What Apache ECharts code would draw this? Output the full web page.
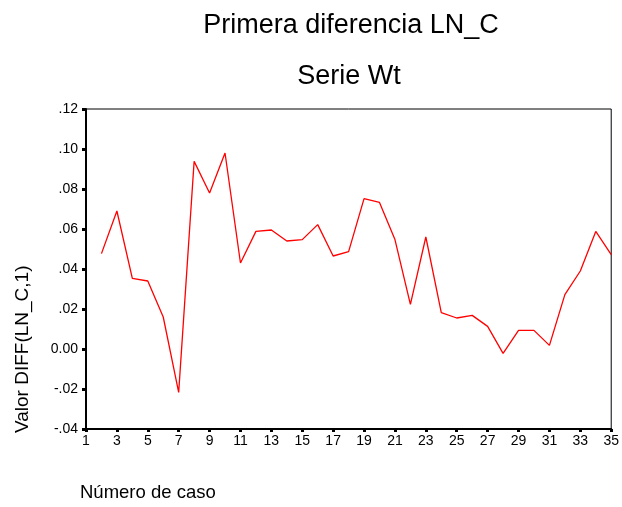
<!DOCTYPE html>
<html>
<head>
<meta charset="utf-8">
<script src="https://cdn.jsdelivr.net/npm/echarts@6/dist/echarts.min.js"></script>
<style>
  html, body { margin: 0; padding: 0; background: #fff; }
  #chart { width: 622px; height: 507px; }
</style>
</head>
<body>
<div id="chart"></div>
<script>
  // case numbers 1..35 (first difference has no value at case 1)
  var cases = []
  for (var i = 1; i <= 35; i++) cases.push(String(i))

  var diffLnC = [null,
    0.0477, 0.0690, 0.0353, 0.0340, 0.0160, -0.0217, 0.0938, 0.0780, 0.0980, 0.0430,
    0.0588, 0.0595, 0.0540, 0.0547, 0.0622, 0.0465, 0.0487, 0.0752, 0.0733, 0.0547,
    0.0223, 0.0560, 0.0182, 0.0155, 0.0168, 0.0113, -0.0022, 0.0093, 0.0093, 0.0018,
    0.0272, 0.0390, 0.0588, 0.0472]

  var yTicks = { '0.12': '.12', '0.1': '.10', '0.08': '.08', '0.06': '.06', '0.04': '.04',
    '0.02': '.02', '0': '0.00', '-0.02': '-.02', '-0.04': '-.04' }

  var font = 'Liberation Sans, Arial, sans-serif'
  var chart = echarts.init(document.getElementById('chart'))

  chart.setOption({
    animation: false,
    title: [
      { text: 'Primera diferencia LN_C', left: 346, top: 7, textAlign: 'center',
        textStyle: { fontFamily: font, fontSize: 27, fontWeight: 'normal', color: '#000' } },
      { text: 'Serie Wt', left: 344, top: 58, textAlign: 'center',
        textStyle: { fontFamily: font, fontSize: 27, fontWeight: 'normal', color: '#000' } }
    ],
    grid: { left: 86, right: 10, top: 109, bottom: 78, show: true, borderColor: '#000', borderWidth: 1 },
    graphic: [
      { type: 'text', x: 13, y: 433, rotation: Math.PI / 2,
        style: { text: 'Valor DIFF(LN_C,1)', font: '19px ' + font, fill: '#000' } },
      { type: 'text', x: 80, y: 483,
        style: { text: 'Número de caso', font: '18.5px ' + font, fill: '#000' } }
    ],
    xAxis: {
      type: 'category',
      data: cases,
      boundaryGap: false,
      axisLine: { onZero: false, lineStyle: { color: '#000', width: 2 } },
      axisTick: { interval: 1, length: 3, lineStyle: { color: '#000', width: 3 } },
      axisLabel: { interval: 1, color: '#000', fontFamily: font, fontSize: 14, margin: 5 },
      splitLine: { show: false }
    },
    yAxis: {
      type: 'value',
      min: -0.04,
      max: 0.12,
      interval: 0.02,
      axisLine: { show: true, lineStyle: { color: '#000', width: 2 } },
      axisTick: { show: true, length: 4, lineStyle: { color: '#000', width: 3 } },
      axisLabel: {
        color: '#000', fontFamily: font, fontSize: 14, margin: 8,
        formatter: function (v) { return yTicks[String(Math.round(v * 100) / 100)] }
      },
      splitLine: { show: false }
    },
    series: [{
      type: 'line',
      data: diffLnC,
      showSymbol: false,
      lineStyle: { color: '#ff0000', width: 1.3 }
    }]
  })
</script>
</body>
</html>
